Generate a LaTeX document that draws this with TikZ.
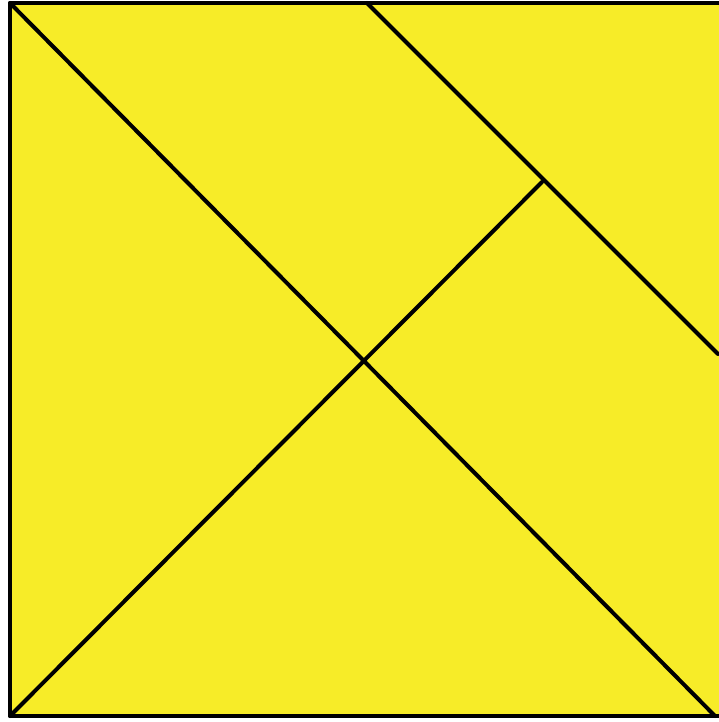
\documentclass[tikz,border=0pt]{standalone}
\definecolor{tanyellow}{RGB}{247,236,40}
\tikzset{piece/.style={line width=4pt,line cap=round,line join=round}}
\begin{document}
\begin{tikzpicture}[x=1pt,y=-1pt]
\useasboundingbox (0,0) rectangle (718,722);
\fill[white] (0,0) rectangle (718,722);
\coordinate (TL) at (10,3);
\coordinate (TR) at (722,3);
\coordinate (BR) at (722,716);
\coordinate (BL) at (10,716);
\coordinate (D) at (715,716);
\coordinate (T) at (367,3);
\coordinate (R) at (718,354);
\coordinate (J) at (542,182);
\fill[tanyellow] (TL) rectangle (BR);
\draw[piece] (TL) rectangle (BR);
\draw[piece] (TL) -- (D);
\draw[piece] (T) -- (R);
\draw[piece] (BL) -- (J);
\end{tikzpicture}
\end{document}
